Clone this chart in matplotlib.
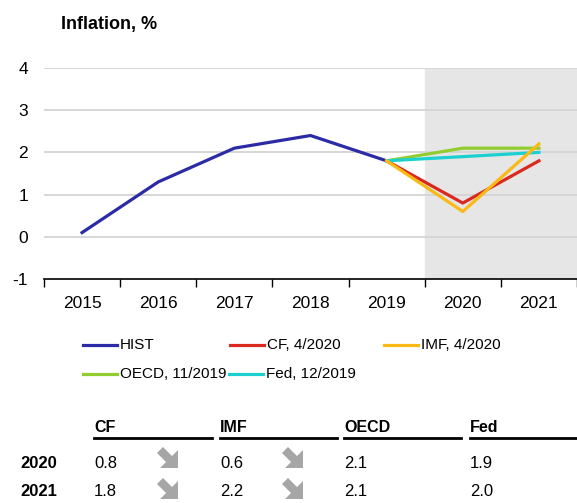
import numpy as np
import matplotlib.pyplot as plt
from matplotlib.lines import Line2D
from matplotlib.patches import Polygon

plt.rcParams['font.family'] = ['Liberation Sans', 'DejaVu Sans']

years = ['2015', '2016', '2017', '2018', '2019', '2020', '2021']
hist = [0.1, 1.3, 2.1, 2.4, 1.8]
cf = [1.8, 0.8, 1.8]
imf = [1.8, 0.6, 2.2]
oecd = [1.8, 2.1, 2.1]
fed = [1.8, 1.9, 2.0]

table_cols = ['CF', 'IMF', 'OECD', 'Fed']
table_rows = ['2020', '2021']
table_vals = [['0.8', '0.6', '2.1', '1.9'],
              ['1.8', '2.2', '2.1', '2.0']]

W, H = 577, 503
fig = plt.figure(figsize=(W / 100, H / 100), dpi=100)
ax = fig.add_axes([44 / W, (H - 279) / H, 1 - 44 / W, (279 - 68) / H])


def fx(px):
    return px / W


def fy(py):
    return 1 - py / H


# shaded forecast period
ax.axvspan(4.5, 6.6, color='#e6e6e6', zorder=0)

x_hist = list(range(len(hist)))
x_fc = [4, 5, 6]
lw = 2.3
l_hist, = ax.plot(x_hist, hist, color='#2b2ba6', lw=lw, zorder=3)
l_oecd, = ax.plot(x_fc, oecd, color='#92cd30', lw=lw, zorder=3)
l_fed, = ax.plot(x_fc, fed, color='#1ccfd0', lw=lw, zorder=4)
l_cf, = ax.plot(x_fc, cf, color='#da2a1f', lw=lw, zorder=3)
l_imf, = ax.plot(x_fc, imf, color='#fbb915', lw=lw, zorder=4)

ax.set_xlim(-0.5, 6.5)
ax.set_ylim(-1, 4)
ax.set_yticks([-1, 0, 1, 2, 3, 4])
ax.set_yticklabels(['-1', '0', '1', '2', '3', '4'], fontsize=12.5)
for v in [0, 1, 2, 3, 4]:
    ax.axhline(v, color='#d6d6d6', lw=1.4, zorder=1)

ax.set_xticks(range(len(years)))
ax.set_xticklabels(years, fontsize=12.5)
ax.set_xticks([i - 0.5 for i in range(len(years) + 1)], minor=True)
ax.tick_params(axis='x', which='major', length=0, pad=12)
ax.tick_params(axis='x', which='minor', length=6, width=1, direction='out')
ax.tick_params(axis='y', length=0, pad=11.5)

for s in ['top', 'right', 'left']:
    ax.spines[s].set_visible(False)
ax.spines['bottom'].set_linewidth(1.2)
ax.spines['bottom'].set_zorder(5)

fig.text(fx(61), fy(25), 'Inflation, %', fontsize=13, fontweight='bold',
         va='center', ha='left')

# legend laid out by hand, like the original
leg_items = [(l_hist, 'HIST', 83, 345), (l_cf, 'CF, 4/2020', 230, 345),
             (l_imf, 'IMF, 4/2020', 384, 345),
             (l_oecd, 'OECD, 11/2019', 83, 374), (l_fed, 'Fed, 12/2019', 229, 374)]
for line, label, px, py in leg_items:
    fig.add_artist(Line2D([fx(px), fx(px + 34)], [fy(py), fy(py)],
                          color=line.get_color(), lw=lw))
    fig.text(fx(px + 37), fy(py), label, fontsize=11, va='center', ha='left')

# table below the chart
col_x = [94, 220, 344, 470]
line_end = [212, 337, 461, 577]
row_y = [463, 492]
arrow_tip = [[(178, 468), (303, 468)], [(178, 499), (303, 499)]]


def down_arrow(tip_x, tip_y):
    # block arrow pointing down-right, tip given in image pixels
    hl, hw, sw, L = 12.7, 12.7, 8.5, 25.5
    local = np.array([[0, 0], [-hl, hw], [-hl, sw / 2], [-L, sw / 2],
                      [-L, -sw / 2], [-hl, -sw / 2], [-hl, -hw]])
    d = np.array([1, 1]) / np.sqrt(2)     # down-right in image pixels
    n = np.array([1, -1]) / np.sqrt(2)
    pts = [(tip_x + u * d[0] + v * n[0], tip_y + u * d[1] + v * n[1]) for u, v in local]
    pts = [(fx(a), fy(b)) for a, b in pts]
    fig.add_artist(Polygon(pts, closed=True, color='#a6a6a6', lw=0))


for j, name in enumerate(table_cols):
    fig.text(fx(col_x[j]), fy(427), name, fontsize=11.5, fontweight='bold',
             va='center', ha='left')
    fig.add_artist(Line2D([fx(col_x[j]), fx(line_end[j])], [fy(438), fy(438)],
                          color='black', lw=2))
for i, r in enumerate(table_rows):
    fig.text(fx(20), fy(row_y[i]), r, fontsize=12, fontweight='bold',
             va='center', ha='left')
    for j in range(len(table_cols)):
        fig.text(fx(col_x[j]), fy(row_y[i]), table_vals[i][j], fontsize=12,
                 va='center', ha='left')
    for tx, ty in arrow_tip[i]:
        down_arrow(tx, ty)

fig.savefig('out.png', dpi=100)
